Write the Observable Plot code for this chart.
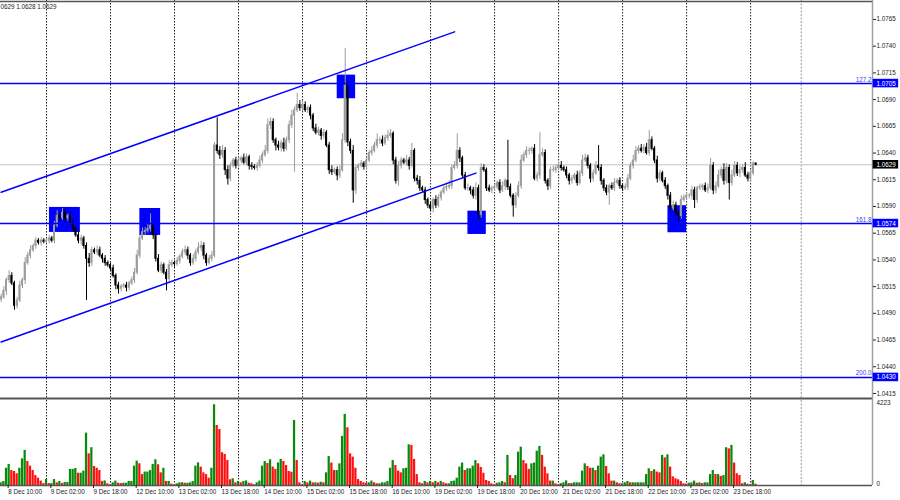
<!DOCTYPE html>
<html><head><meta charset="utf-8">
<script src="https://cdn.jsdelivr.net/npm/d3@7"></script>
<script src="https://cdn.jsdelivr.net/npm/@observablehq/plot@0.6"></script>
<style>
body{margin:0;background:#fff;}
#chart{position:relative;width:900px;height:500px;overflow:hidden;background:#fff;}
#chart svg{position:absolute;left:0;}
</style></head><body><div id="chart"></div>
<script>
// ---- DATA (H1 bars, 8 Dec 07:00 -> 23 Dec; prices in pips above 1.0400) ----
const closePips = [
 105,111,121,125,118,97,102,116,121,137,144,149,153,158,156,158,157,
 158,160,158,172,181,179,184,179,181,175,169,163,158,160,153,141,137,149,147,149,144,141,137,135,
 132,125,116,113,115,116,114,118,121,128,144,160,166,167,169,172,163,141,130,135,128,122,135,137,
 136,139,143,147,149,144,137,141,147,151,153,144,137,141,144,247,242,238,242,224,216,228,233,228,
 233,235,231,236,228,227,226,228,233,238,242,266,269,252,247,245,249,244,252,266,275,280,285,282,
 285,280,282,275,263,259,261,256,259,247,224,222,224,219,224,252,303,250,242,205,226,228,230,227,
 233,240,242,247,252,252,249,254,256,258,233,214,228,233,231,233,228,242,216,214,207,205,196,191,
 188,196,191,198,203,207,208,209,226,228,242,235,219,207,207,205,200,207,182,226,224,207,205,207,
 208,212,205,209,214,208,200,191,200,209,233,238,242,242,244,216,219,238,240,214,209,224,224,226,
 228,226,224,219,214,216,219,212,221,233,235,228,216,221,228,226,214,207,203,209,207,212,214,209,
 207,208,216,228,233,242,244,242,245,240,252,244,233,216,221,214,209,200,188,191,184,181,196,198,
 200,200,205,196,207,208,209,205,207,228,205,209,219,224,214,226,212,219,228,221,224,226,219,216,
 221,230,229
];
const firstOpenPips = 103;
const upperWickPips = [
 3,4,2,5,3,2,3,4,2,5,3,4,2,3,2,3,2,
 2,3,2,4,5,3,4,3,2,4,3,2,4,3,2,3,5,3,2,4,3,2,3,2,
 2,3,2,3,2,2,3,2,3,4,5,3,4,3,5,11,3,2,4,3,2,3,4,3,
 2,3,2,3,4,3,2,4,3,5,4,3,2,3,4,3,26,4,5,3,4,3,2,3,
 3,2,4,3,2,3,2,3,4,3,5,6,4,3,2,4,3,5,3,4,5,3,11,4,
 4,3,2,3,2,4,3,2,3,2,3,4,2,3,4,6,35,4,3,5,3,2,3,2,
 3,2,4,3,6,3,4,3,5,4,2,3,4,3,2,5,3,7,2,3,4,2,3,2,
 3,2,4,3,2,3,4,5,3,4,16,3,2,3,4,2,3,5,3,4,3,2,3,2,
 3,2,3,4,2,38,3,2,3,4,5,3,4,3,2,4,3,21,4,3,2,3,4,3,
 3,4,2,3,2,3,2,4,3,5,4,3,2,3,4,19,3,2,3,2,3,4,2,3,
 2,3,4,3,5,4,3,4,3,4,9,3,2,4,3,2,3,2,3,4,3,2,4,3,
 3,2,4,3,2,3,2,3,4,7,3,4,5,3,6,4,3,5,4,3,4,3,5,3,
 3,2,1
];
const lowerWickPips = [
 3,2,4,3,2,4,3,2,3,4,2,3,2,3,2,3,2,
 2,3,2,3,2,3,2,4,3,2,3,2,3,4,3,39,4,3,2,3,2,4,3,2,
 3,2,4,5,3,2,4,3,2,3,2,3,2,3,2,3,4,3,2,3,2,11,3,2,
 3,2,3,2,3,4,3,2,3,2,3,4,3,2,3,2,3,4,3,5,6,3,2,3,
 2,3,2,3,4,3,2,3,2,3,2,3,4,3,5,3,4,3,2,3,3,53,2,3,
 3,2,3,4,3,2,3,4,3,2,4,3,2,5,3,2,3,4,3,12,4,3,2,3,
 3,2,3,2,3,4,3,2,3,2,4,3,5,3,2,3,4,2,3,4,3,2,4,3,
 3,4,3,2,3,2,3,2,3,2,3,4,3,2,3,4,3,4,4,3,2,3,2,3,
 3,2,3,2,4,3,2,11,3,2,3,2,3,4,3,2,3,4,2,3,4,3,2,3,
 2,3,2,3,4,3,2,3,2,3,2,3,4,3,2,3,4,3,3,12,2,3,2,3,
 3,2,3,2,3,2,3,2,3,2,3,2,3,4,3,2,3,4,3,2,3,6,3,2,
 2,3,4,8,3,2,3,2,3,2,4,3,2,3,4,3,16,3,2,3,4,3,2,3,
 3,2,1
];
const tickVolumes = [
 140,210,900,1100,780,730,610,900,1390,1830,1250,1010,780,520,380,230,100,
 310,100,100,310,140,210,100,160,160,840,840,890,640,640,750,2730,1650,1970,990,900,780,210,240,90,
 35,140,230,120,100,120,120,210,210,1010,1270,1130,570,700,700,780,1100,1340,1080,660,900,210,210,70,
 35,90,140,140,120,120,140,210,1010,1180,960,660,570,380,900,4210,3130,2920,1710,1620,1300,300,350,140,
 210,140,210,240,120,90,35,140,230,1010,1250,1150,1340,960,840,1180,1360,1250,1040,730,690,3390,1300,140,
 35,210,140,230,140,140,120,170,140,660,1510,1170,780,780,1130,2560,3710,3010,1650,1480,900,310,210,140,
 120,140,230,140,90,90,140,140,210,900,1300,1040,750,660,870,900,2120,2090,1360,570,140,90,210,140,
 210,140,210,140,210,140,90,90,210,230,380,960,1170,780,870,870,1010,1300,1130,940,640,260,210,90,
 35,120,140,210,140,1570,520,350,520,1740,2000,1300,1130,840,1130,1170,1790,2040,1570,960,610,230,230,90,
 35,100,140,240,100,100,140,140,140,750,1130,990,900,900,780,1010,1480,1600,990,610,230,230,140,90,
 90,140,210,140,140,140,140,140,140,570,870,730,820,700,660,1570,1440,1600,960,450,350,300,210,90,
 70,120,140,230,120,140,100,140,140,570,780,570,570,470,520,1970,1910,2090,1170,610,520,90,140,70,
 35,260,70
];
const volumeMax = 4223;
const dayStartBars = [17,41,65,89,113,137,161,185,209,233,257,281];
const shiftBar = 300;
const timeTickBars = [3,19,35,51,67,83,99,115,131,147,163,179,195,211,227,243,259,275];
const timeTickLabels = ["8 Dec 10:00","9 Dec 02:00","9 Dec 18:00","12 Dec 10:00","13 Dec 02:00","13 Dec 18:00","14 Dec 10:00","15 Dec 02:00","15 Dec 18:00","16 Dec 10:00","19 Dec 02:00","19 Dec 18:00","20 Dec 10:00","21 Dec 02:00","21 Dec 18:00","22 Dec 10:00","23 Dec 02:00","23 Dec 18:00"];
const priceTicks = [1.0415,1.0440,1.0465,1.0490,1.0515,1.0540,1.0565,1.0590,1.0615,1.0640,1.0665,1.0690,1.0715,1.0740,1.0765];
const fiboPrices = [1.0705,1.0574,1.0430];
const fiboLabels = ["127.2","161.8","200.0"];
const lastPrice = 1.0629;
const channelUpper = [[0,1.06033],[170,1.07534]];
const channelLower = [[0,1.04631],[178,1.06212]];
const zoneBars = [[18.1,29.7],[52.0,59.8],[126.0,132.9],[175.0,181.9],[250.0,257.0]];
const zonePrices = [[1.05657,1.05891],[1.05629,1.05881],[1.06908,1.07129],[1.05638,1.05856],[1.05654,1.05907]];
const headerText = "0629 1.0628 1.0629";

// ---- BUILD ----
const X_DOMAIN = [-0.25, 326.7];
const Y_DOMAIN = [1.04103, 1.07818];
const BULL = "#9c9c9c", BEAR = "#000000", BLUE = "#0000ff";
const n = Math.min(closePips.length, upperWickPips.length, lowerWickPips.length, tickVolumes.length);
const toPrice = p => 1.04 + p / 10000;
const candles = [];
for (let i = 0; i < n; i++) {
  const o = i === 0 ? firstOpenPips : closePips[i - 1];
  const c = closePips[i];
  candles.push({
    i, open: toPrice(o), close: toPrice(c),
    high: toPrice(Math.max(o, c) + upperWickPips[i]),
    low: toPrice(Math.min(o, c) - lowerWickPips[i]),
    vol: tickVolumes[i],
    up: i === 0 ? true : tickVolumes[i] >= tickVolumes[i - 1]
  });
}
const channels = [
  ...channelUpper.map(([i, p]) => ({i, p, z: "upper"})),
  ...channelLower.map(([i, p]) => ({i, p, z: "lower"}))
];
const zones = zoneBars.map((b, k) => ({i1: b[0], i2: b[1], p1: zonePrices[k][0], p2: zonePrices[k][1]}));
const fibs = fiboPrices.map((p, k) => ({p, label: fiboLabels[k]}));
const tags = [
  ...fiboPrices.map(p => ({p, bg: BLUE})),
  {p: lastPrice, bg: "#000000"}
];
const labelMap = new Map(timeTickBars.map((b, k) => [b, timeTickLabels[k]]));
const fmt4 = d3.format(".4f");
const XR = X_DOMAIN[1];
const font = "'Liberation Sans', Arial, sans-serif";

const main = Plot.plot({
  width: 900, height: 400,
  marginTop: 1, marginBottom: 2, marginLeft: 0, marginRight: 28,
  x: {domain: X_DOMAIN, axis: null},
  y: {domain: Y_DOMAIN},
  color: {type: "identity"},
  style: {fontFamily: font, fontSize: "6.3px", background: "transparent", overflow: "visible"},
  marks: [
    Plot.ruleX(dayStartBars, {stroke: "#222", strokeDasharray: "1.5,1.5", strokeWidth: 1, insetTop: -1}),
    Plot.ruleX([shiftBar], {stroke: "#a8a8a8", strokeDasharray: "2,1.5", strokeWidth: 1.2, insetTop: -1}),
    Plot.ruleY([lastPrice], {stroke: "#c4c4c4", strokeWidth: 1}),
    Plot.rect(zones, {x1: "i1", x2: "i2", y1: "p1", y2: "p2", fill: BLUE}),
    Plot.ruleX(candles, {x: "i", y1: "low", y2: "high", stroke: d => d.close >= d.open ? BULL : BEAR, strokeWidth: 1}),
    Plot.rect(candles, {x1: d => d.i - 0.38, x2: d => d.i + 0.38, y1: "open", y2: "close",
      fill: d => d.close >= d.open ? BULL : BEAR, insetTop: -0.5, insetBottom: -0.5}),
    Plot.ruleY(fibs, {y: "p", stroke: BLUE, strokeWidth: 1.4}),
    Plot.line(channels, {x: "i", y: "p", z: "z", stroke: BLUE, strokeWidth: 1.5}),
    Plot.text(fibs, {x: d => XR, y: "p", text: "label", textAnchor: "end", dx: -1, dy: -4, fill: "#3c3cff", fontSize: 6.3}),
    Plot.text([headerText], {frameAnchor: "top-left", text: d => d, lineAnchor: "top", dy: 3, fill: "#222", fontSize: 6.3}),
    Plot.ruleY([Y_DOMAIN[1]], {stroke: "#555", strokeWidth: 1.5}),
    Plot.ruleY([Y_DOMAIN[0]], {stroke: "#555", strokeWidth: 2}),
    Plot.ruleX([XR], {stroke: "#a0a0a0", strokeWidth: 1.5, insetTop: -1, insetBottom: -2}),
    Plot.axisY({anchor: "right", ticks: priceTicks, tickFormat: fmt4, tickSize: 3, tickPadding: 1, label: null, color: "#222", fontSize: 6.3}),
    Plot.rect(tags, {x1: d => XR + 0.25, x2: d => XR + 9.8, y1: d => d.p - 0.00040, y2: d => d.p + 0.00040, fill: "bg"}),
    Plot.text(tags, {x: d => XR, y: "p", text: d => fmt4(d.p), textAnchor: "start", dx: 4, fill: "#ffffff", fontSize: 6.3})
  ]
});
main.style.top = "0px";

const vol = Plot.plot({
  width: 900, height: 100,
  marginTop: 4, marginBottom: 15, marginLeft: 0, marginRight: 28,
  x: {domain: X_DOMAIN},
  y: {domain: [0, volumeMax]},
  color: {type: "identity"},
  style: {fontFamily: font, fontSize: "6.3px", background: "transparent", overflow: "visible"},
  marks: [
    Plot.ruleX(dayStartBars, {stroke: "#222", strokeDasharray: "1.5,1.5", strokeWidth: 1, insetTop: -4}),
    Plot.ruleX([shiftBar], {stroke: "#a8a8a8", strokeDasharray: "2,1.5", strokeWidth: 1.2, insetTop: -4}),
    Plot.rectY(candles, {x1: d => d.i - 0.42, x2: d => d.i + 0.42, y1: 0, y2: "vol",
      fill: d => d.up ? "#0a8a0a" : "#ff1010"}),
    Plot.ruleY([0], {stroke: "#555", strokeWidth: 1.5}),
    Plot.ruleX([XR], {stroke: "#a0a0a0", strokeWidth: 1.5, insetTop: -4}),
    Plot.axisY({anchor: "right", ticks: [0, volumeMax], tickFormat: d => String(d), tickSize: 0, tickPadding: 4, dy: -1.5, label: null, color: "#222", fontSize: 6.3}),
    Plot.axisX({anchor: "bottom", ticks: timeTickBars, tickFormat: d => labelMap.get(d), tickSize: 3, tickPadding: 1.5,
      textAnchor: "start", dx: -1, label: null, color: "#222", fontSize: 6.3})
  ]
});
vol.style.top = "400px";

const host = document.getElementById("chart");
host.appendChild(main);
host.appendChild(vol);
</script>
</body></html>
